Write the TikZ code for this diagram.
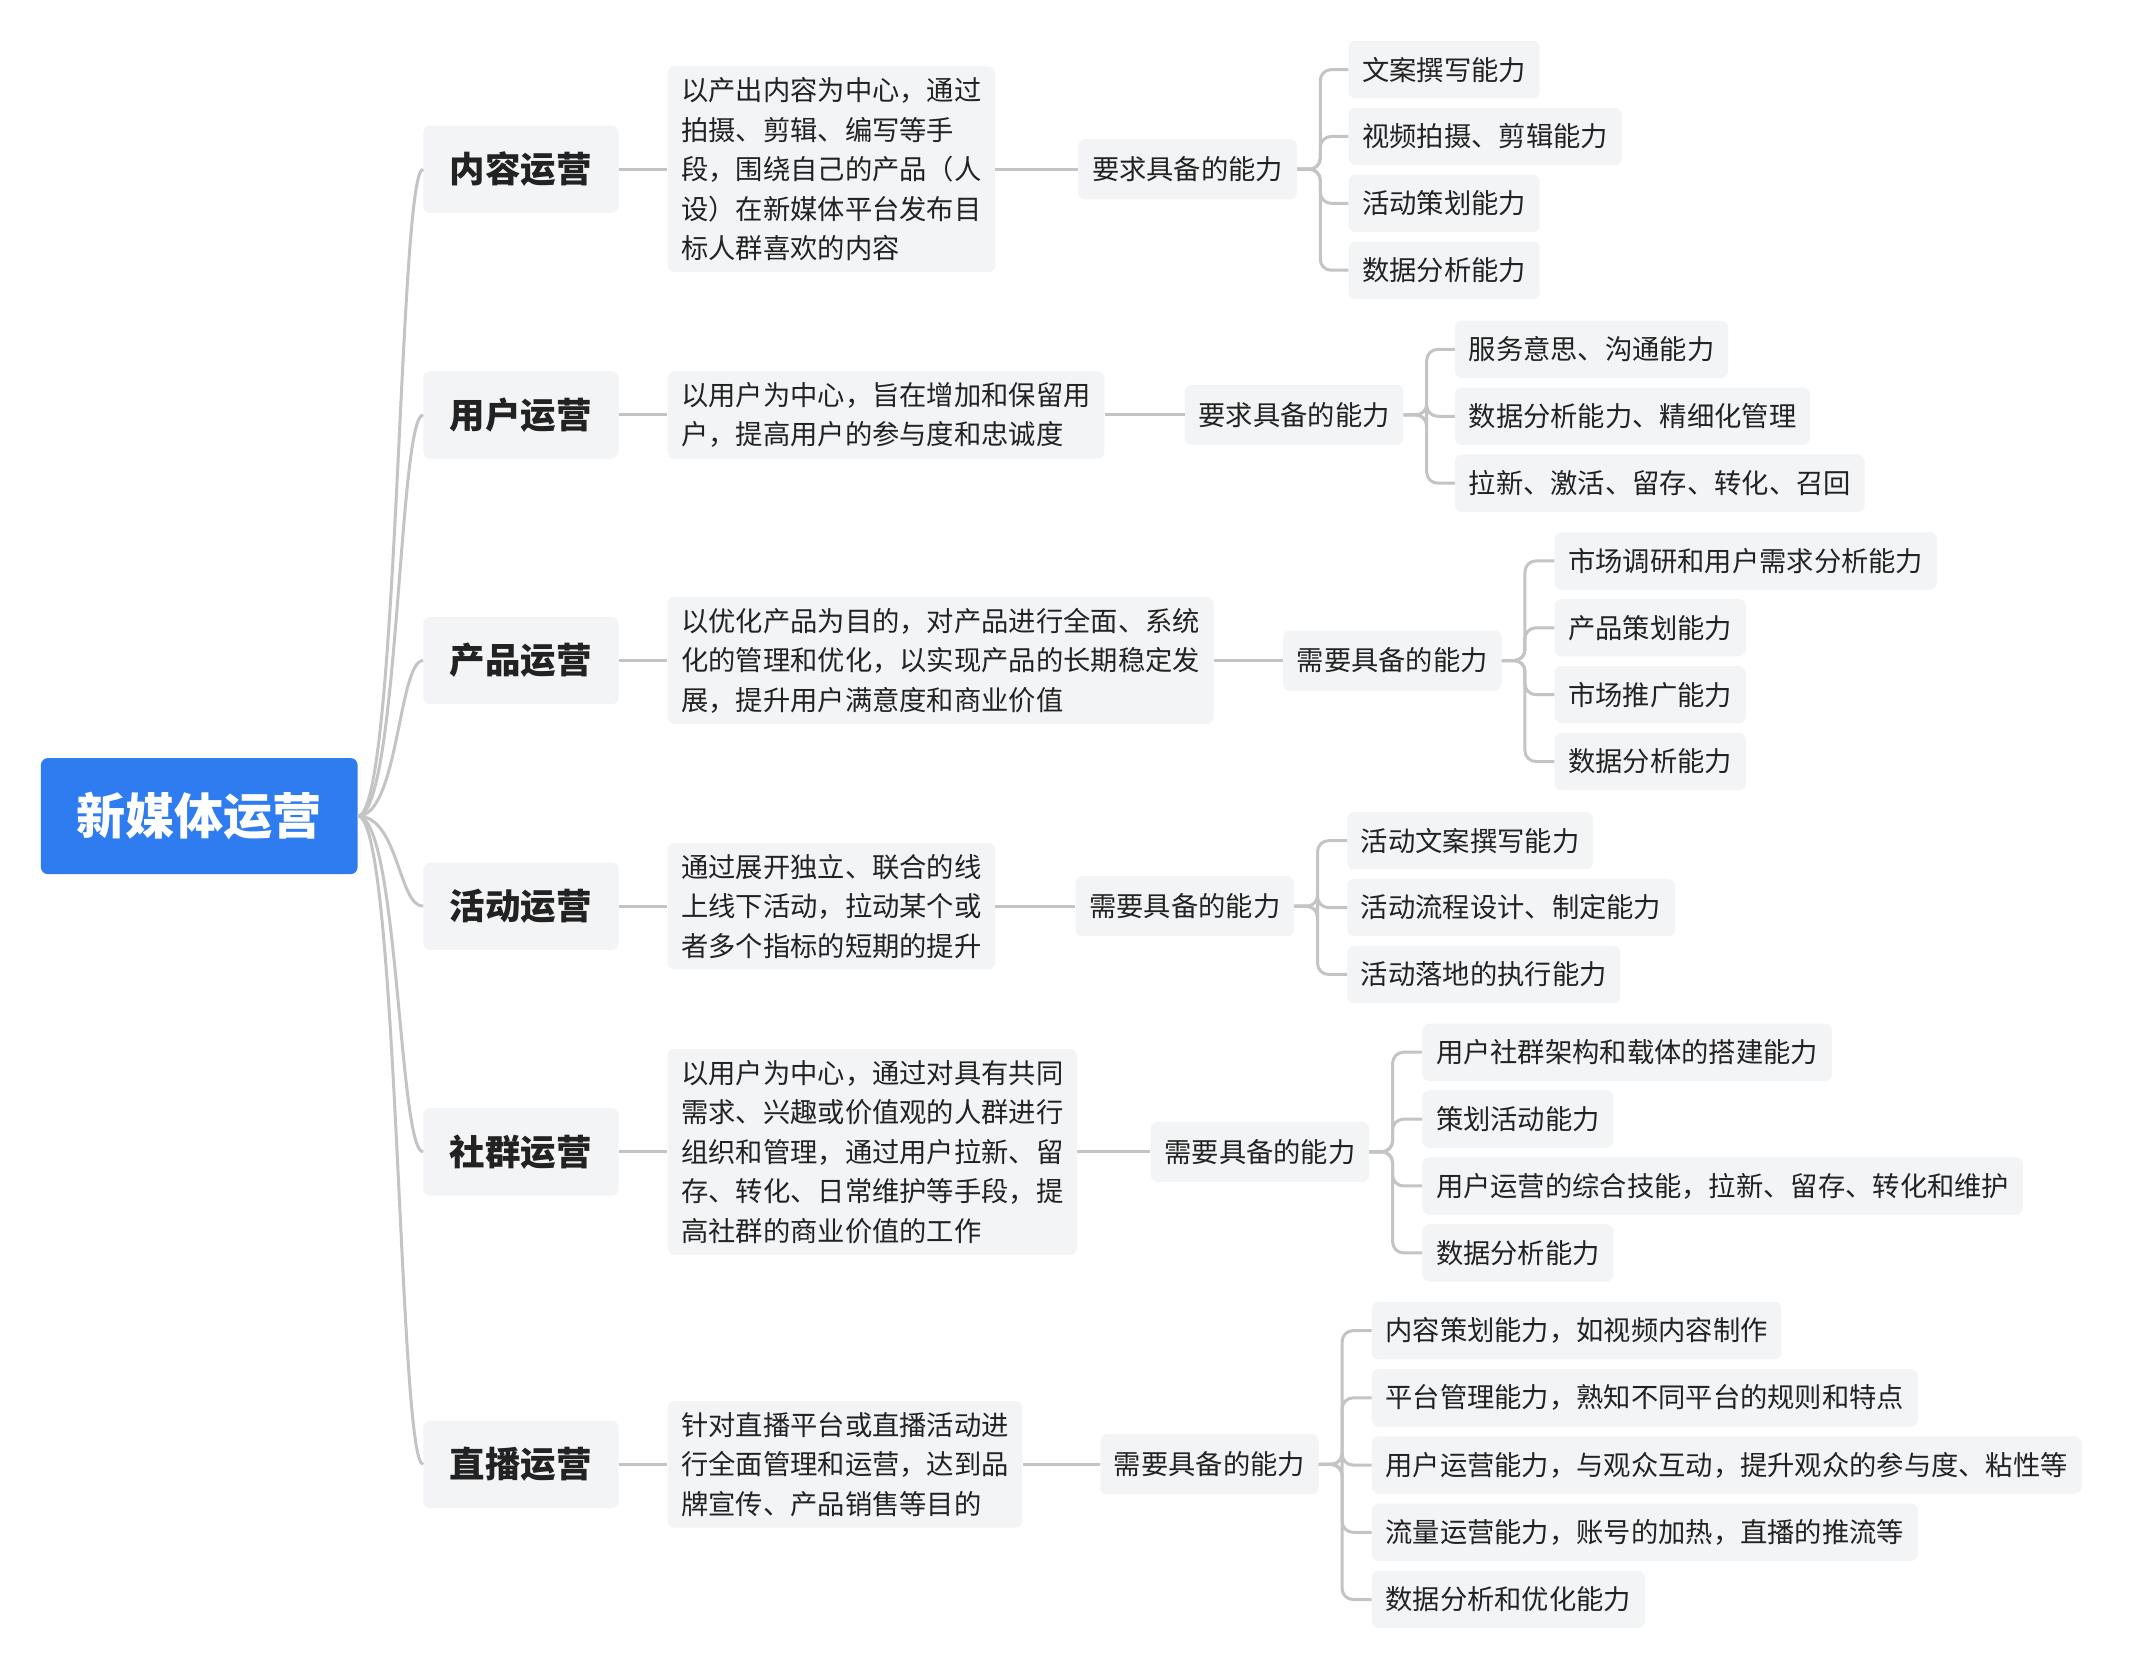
\documentclass[tikz,border=0pt]{standalone}
\usepackage{fontspec}
\setmainfont{Noto Sans CJK SC}
\begin{document}
\begin{tikzpicture}[x=1pt,y=-1pt,
  box/.style={fill=boxgray,rounded corners=5pt,text=textdark,inner xsep=10pt,inner ysep=6pt,font=\fontsize{20}{29}\selectfont},
  leaf/.style={box,anchor=west,minimum height=42pt,inner ysep=0pt},
  desc/.style={box,anchor=west,align=left,inner ysep=8pt},
  lvl/.style={box,anchor=west,minimum width=143pt,minimum height=64pt,font=\fontsize{26}{30}\selectfont\bfseries},
  ab/.style={box,anchor=west,minimum height=44pt,inner ysep=0pt},
  con/.style={draw=linegray,line width=2.2pt},
  br/.style={con,rounded corners=8pt}]
\definecolor{boxgray}{HTML}{F3F4F6}
\definecolor{textdark}{HTML}{222222}
\definecolor{linegray}{HTML}{C4C4C4}
\definecolor{rootblue}{HTML}{2F7BF0}
\useasboundingbox[fill=white] (0,0) rectangle (1560,1216);
\node[fill=rootblue,rounded corners=5pt,minimum width=232pt,minimum height=85pt,text=white,font=\fontsize{36}{40}\selectfont\bfseries] (root) at (146,598) {新媒体运营};
% level 1
\node[lvl] (l1) at (310,124) {内容运营};
\node[lvl] (l2) at (310,304) {用户运营};
\node[lvl] (l3) at (310,484) {产品运营};
\node[lvl] (l4) at (310,664) {活动运营};
\node[lvl] (l5) at (310,844) {社群运营};
\node[lvl] (l6) at (310,1073) {直播运营};
\foreach \i in {1,...,6}{\draw[con] (root.east) .. controls (292,598) and (292,0|-l\i.west) .. (l\i.west);}
% descriptions
\node[desc] (d1) at (489,124) {以产出内容为中心，通过\\拍摄、剪辑、编写等手\\段，围绕自己的产品（人\\设）在新媒体平台发布目\\标人群喜欢的内容};
\node[desc] (d2) at (489,304) {以用户为中心，旨在增加和保留用\\户，提高用户的参与度和忠诚度};
\node[desc] (d3) at (489,484) {以优化产品为目的，对产品进行全面、系统\\化的管理和优化，以实现产品的长期稳定发\\展，提升用户满意度和商业价值};
\node[desc] (d4) at (489,664) {通过展开独立、联合的线\\上线下活动，拉动某个或\\者多个指标的短期的提升};
\node[desc] (d5) at (489,844) {以用户为中心，通过对具有共同\\需求、兴趣或价值观的人群进行\\组织和管理，通过用户拉新、留\\存、转化、日常维护等手段，提\\高社群的商业价值的工作};
\node[desc] (d6) at (489,1073) {针对直播平台或直播活动进\\行全面管理和运营，达到品\\牌宣传、产品销售等目的};
% ability
\node[ab] (a1) at (790,124) {要求具备的能力};
\node[ab] (a2) at (868,304) {要求具备的能力};
\node[ab] (a3) at (940,484) {需要具备的能力};
\node[ab] (a4) at (788,664) {需要具备的能力};
\node[ab] (a5) at (843,844) {需要具备的能力};
\node[ab] (a6) at (806,1073) {需要具备的能力};
\foreach \i in {1,...,6}{\draw[con] (l\i.east) -- (d\i.west); \draw[con] (d\i.east) -- (a\i.west);}
% leaves
\foreach \t [count=\j, evaluate=\j as \yy using {51+49*(\j-1)}] in {文案撰写能力,视频拍摄、剪辑能力,活动策划能力,数据分析能力}
  {\node[leaf] (a1l\j) at (988,\yy) {\t}; \draw[br] (a1.east) -- ++(17,0) |- (a1l\j.west);}
\foreach \t [count=\j, evaluate=\j as \yy using {256+49*(\j-1)}] in {服务意思、沟通能力,数据分析能力、精细化管理,拉新、激活、留存、转化、召回}
  {\node[leaf] (a2l\j) at (1066,\yy) {\t}; \draw[br] (a2.east) -- ++(17,0) |- (a2l\j.west);}
\foreach \t [count=\j, evaluate=\j as \yy using {411+49*(\j-1)}] in {市场调研和用户需求分析能力,产品策划能力,市场推广能力,数据分析能力}
  {\node[leaf] (a3l\j) at (1139,\yy) {\t}; \draw[br] (a3.east) -- ++(17,0) |- (a3l\j.west);}
\foreach \t [count=\j, evaluate=\j as \yy using {616+49*(\j-1)}] in {活动文案撰写能力,活动流程设计、制定能力,活动落地的执行能力}
  {\node[leaf] (a4l\j) at (987,\yy) {\t}; \draw[br] (a4.east) -- ++(17,0) |- (a4l\j.west);}
\foreach \t [count=\j, evaluate=\j as \yy using {771+49*(\j-1)}] in {用户社群架构和载体的搭建能力,策划活动能力,用户运营的综合技能，拉新、留存、转化和维护,数据分析能力}
  {\node[leaf] (a5l\j) at (1042,\yy) {\t}; \draw[br] (a5.east) -- ++(17,0) |- (a5l\j.west);}
\foreach \t [count=\j, evaluate=\j as \yy using {975+49.25*(\j-1)}] in {内容策划能力，如视频内容制作,平台管理能力，熟知不同平台的规则和特点,用户运营能力，与观众互动，提升观众的参与度、粘性等,流量运营能力，账号的加热，直播的推流等,数据分析和优化能力}
  {\node[leaf] (a6l\j) at (1005,\yy) {\t}; \draw[br] (a6.east) -- ++(17,0) |- (a6l\j.west);}
\end{tikzpicture}
\end{document}
